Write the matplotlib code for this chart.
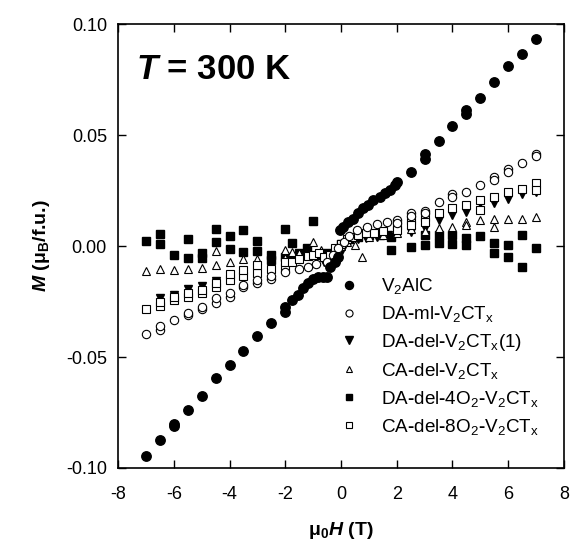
import numpy as np
import matplotlib
matplotlib.use('Agg')
import matplotlib.pyplot as plt

plt.rcParams['font.family'] = ['Liberation Sans', 'DejaVu Sans']
plt.rcParams['axes.unicode_minus'] = False
plt.rcParams['mathtext.fontset'] = 'custom'
plt.rcParams['mathtext.rm'] = 'Liberation Sans:bold'
plt.rcParams['mathtext.it'] = 'Liberation Sans:bold:italic'
plt.rcParams['mathtext.bf'] = 'Liberation Sans:bold'

# V2AlC
h_v2alc = [-7.0, -6.5, -6.0, -6.0, -5.5, -5.0, -4.5, -4.0, -3.5, -3.0, -2.5, -2.0, -2.0,
           -1.77, -1.53, -1.35, -1.17, -0.99, -0.81, -0.65, -0.51, -0.39, -0.21, -0.1,
           -0.04, 0.08, 0.26, 0.44, 0.62, 0.8, 0.98, 1.16, 1.4, 1.58, 1.76, 1.94, 2.0,
           2.5, 3.0, 3.0, 3.5, 4.0, 4.5, 4.5, 5.0, 5.5, 6.0, 6.5, 7.0]
m_v2alc = [-0.0944, -0.0875, -0.0812, -0.0800, -0.0740, -0.0677, -0.0595, -0.0535, -0.0475,
           -0.0404, -0.0345, -0.0295, -0.0273, -0.0243, -0.0220, -0.0190, -0.0168, -0.0150,
           -0.0141, -0.0138, -0.0141, -0.0093, -0.0070, -0.0048, 0.0072, 0.0087, 0.0110,
           0.0124, 0.0147, 0.0170, 0.0184, 0.0207, 0.0222, 0.0237, 0.0252, 0.0274, 0.0289,
           0.0334, 0.0413, 0.0394, 0.0473, 0.0539, 0.0614, 0.0593, 0.0667, 0.0738, 0.0810,
           0.0866, 0.0935]

# DA-ml-V2CTx
h_daml = [-7.0, -6.5, -6.5, -6.0, -5.5, -5.5, -5.0, -5.0, -4.5, -4.5, -4.0, -4.0, -3.5, -3.5,
          -3.0, -3.0, -2.5, -2.5, -2.0, -1.5, -1.2, -0.9, -0.5, -0.3, -0.1, 0.1, 0.3, 0.56,
          0.92, 1.28, 1.64, 2.0, 2.0, 2.5, 2.5, 3.0, 3.0, 3.5, 4.0, 4.0, 4.5, 5.0, 5.5, 5.5,
          6.0, 6.0, 6.5, 7.0, 7.0]
m_daml = [-0.0395, -0.0380, -0.0360, -0.0335, -0.0310, -0.0303, -0.0285, -0.0276, -0.0258,
          -0.0235, -0.0228, -0.0210, -0.0186, -0.0175, -0.0168, -0.0153, -0.0150, -0.0135,
          -0.0115, -0.0105, -0.0095, -0.0080, -0.0070, -0.0040, -0.0010, 0.0020, 0.0045,
          0.0072, 0.0087, 0.0099, 0.0110, 0.0117, 0.0105, 0.0147, 0.0135, 0.0159, 0.0147,
          0.0199, 0.0234, 0.0222, 0.0244, 0.0274, 0.0311, 0.0297, 0.0349, 0.0334, 0.0372,
          0.0413, 0.0404]

# DA-del-V2CTx(1)
h_dadel = [-6.5, -6.0, -5.5, -5.0, -4.5, -4.0, -3.5, -3.0, -2.5, -2.0, -1.8, -1.5, -1.2, -0.9,
           -0.6, -0.35, -0.15, 0.05, 0.3, 0.6, 0.9, 1.3, 1.7, 2.0, 2.5, 3.0, 3.5, 4.0, 4.5,
           5.0, 5.5, 6.0, 6.5, 7.0]
m_dadel = [-0.0235, -0.0220, -0.0195, -0.0178, -0.0158, -0.0150, -0.0126, -0.0100, -0.0078,
           -0.0070, -0.0060, -0.0050, -0.0045, -0.0050, -0.0070, -0.0090, -0.0070, -0.0020,
           0.0020, 0.0030, 0.0035, 0.0040, 0.0050, 0.0060, 0.0064, 0.0080, 0.0117, 0.0139,
           0.0154, 0.0192, 0.0192, 0.0214, 0.0234, 0.0245]

# CA-del-V2CTx
h_cadel = [-7.0, -6.5, -6.0, -5.5, -5.0, -4.5, -4.5, -4.0, -3.5, -3.0, -2.0, -2.0, -1.77,
           -1.5, -0.99, -0.7, -0.4, -0.2, 0.0, 0.2, 0.5, 0.74, 1.0, 1.5, 2.0, 2.5, 3.0, 3.5,
           4.0, 4.5, 4.5, 5.0, 5.5, 5.5, 6.0, 6.5, 7.0]
m_cadel = [-0.0111, -0.0105, -0.0110, -0.0105, -0.0100, -0.0021, -0.0085, -0.0071, -0.0060,
           -0.0060, -0.0018, -0.0055, -0.0026, -0.0030, 0.0019, -0.0020, -0.0040, -0.0020,
           0.0000, 0.0020, 0.0004, -0.0048, 0.0040, 0.0050, 0.0060, 0.0075, 0.0070, 0.0080,
           0.0087, 0.0109, 0.0094, 0.0117, 0.0124, 0.0087, 0.0124, 0.0124, 0.0132]

# DA-del-4O2-V2CTx
h_da4o2 = [-7.0, -6.5, -6.5, -6.0, -5.5, -5.5, -5.0, -5.0, -4.5, -4.5, -4.0, -4.0, -3.5, -3.5,
           -3.0, -3.0, -2.5, -2.5, -2.0, -2.0, -1.77, -1.5, -1.23, -0.99, -0.8, -0.5, -0.3,
           0.0, 0.3, 0.6, 1.0, 1.4, 1.78, 1.78, 2.5, 3.0, 3.0, 3.5, 3.5, 4.0, 4.0, 4.5, 4.5,
           5.0, 5.5, 5.5, 6.0, 6.0, 6.5, 6.5, 7.0]
m_da4o2 = [0.0022, 0.0053, 0.0008, -0.0040, 0.0032, -0.0055, -0.0033, -0.0055, 0.0075,
           0.0017, 0.0047, -0.0012, 0.0072, -0.0026, 0.0024, -0.0021, -0.0040, -0.0063,
           0.0075, -0.0048, 0.0012, -0.0030, -0.0010, 0.0114, -0.0040, -0.0030, -0.0040,
           0.0010, 0.0030, 0.0040, 0.0050, 0.0050, 0.0042, -0.0016, -0.0006, 0.0049, 0.0004,
           0.0049, 0.0012, 0.0049, 0.0009, 0.0035, 0.0004, 0.0045, 0.0012, -0.0033, 0.0004,
           -0.0048, 0.0049, -0.0093, -0.0010]

# CA-del-8O2-V2CTx
h_ca8o2 = [-7.0, -6.5, -6.5, -6.0, -6.0, -5.5, -5.5, -5.0, -5.0, -4.5, -4.5, -4.0, -4.0, -3.5,
           -3.5, -3.0, -3.0, -2.5, -2.0, -2.0, -1.77, -1.5, -1.2, -1.0, -0.8, -0.6, -0.4,
           -0.2, 0.0, 0.2, 0.4, 0.6, 0.9, 1.2, 1.5, 2.0, 2.0, 2.5, 2.5, 3.0, 3.0, 3.5, 4.0,
           4.5, 5.0, 5.0, 5.5, 6.0, 6.5, 7.0, 7.0]
m_ca8o2 = [-0.0283, -0.0268, -0.0252, -0.0243, -0.0228, -0.0228, -0.0213, -0.0210, -0.0196,
           -0.0183, -0.0165, -0.0153, -0.0125, -0.0135, -0.0110, -0.0123, -0.0087, -0.0105,
           -0.0094, -0.0072, -0.0070, -0.0060, -0.0045, -0.0040, -0.0030, -0.0050, -0.0040,
           -0.0010, 0.0010, 0.0030, 0.0040, 0.0050, 0.0060, 0.0060, 0.0070, 0.0094, 0.0072,
           0.0117, 0.0094, 0.0130, 0.0109, 0.0147, 0.0170, 0.0184, 0.0207, 0.0162, 0.0222,
           0.0244, 0.0259, 0.0282, 0.0252]

labels = [r'$\mathregular{V_2AlC}$',
          r'$\mathregular{DA\text{-}ml\text{-}V_2CT_x}$',
          r'$\mathregular{DA\text{-}del\text{-}V_2CT_x(1)}$',
          r'$\mathregular{CA\text{-}del\text{-}V_2CT_x}$',
          r'$\mathregular{DA\text{-}del\text{-}4O_2\text{-}V_2CT_x}$',
          r'$\mathregular{CA\text{-}del\text{-}8O_2\text{-}V_2CT_x}$']

fig = plt.figure(figsize=(5.72, 5.48), dpi=100)
ax = fig.add_axes([0.2063, 0.146, 0.7797, 0.810])

ax.plot(h_da4o2, m_da4o2, 's', ms=5.8, mfc='black', mec='black', label=labels[4])
ax.plot(h_dadel, m_dadel, 'v', ms=6, mfc='black', mec='black', label=labels[2])
ax.plot(h_cadel, m_cadel, '^', ms=5.5, mfc='white', mec='black', mew=0.8, label=labels[3])
ax.plot(h_ca8o2, m_ca8o2, 's', ms=5.6, mfc='white', mec='black', mew=0.8, label=labels[5])
ax.plot(h_daml, m_daml, 'o', ms=6, mfc='white', mec='black', mew=0.8, label=labels[1])
ax.plot(h_v2alc, m_v2alc, 'o', ms=6.8, mfc='black', mec='black', label=labels[0])

handles, labs = ax.get_legend_handles_labels()
order = [5, 4, 1, 2, 0, 3]
leg = ax.legend([handles[i] for i in order], [labs[i] for i in order],
                loc='upper left', bbox_to_anchor=(0.496, 0.432), frameon=False,
                fontsize=13.6, handlelength=1.0, handletextpad=1.2, labelspacing=0.42,
                markerscale=0.85, borderpad=0, borderaxespad=0)
leg.set_zorder(10)

ax.set_xlim(-8, 8)
ax.set_ylim(-0.1, 0.1)
ax.set_xticks(np.arange(-8, 9, 2))
ax.set_yticks([-0.10, -0.05, 0.00, 0.05, 0.10])
ax.set_yticklabels(['-0.10', '-0.05', '0.00', '0.05', '0.10'])
ax.tick_params(direction='in', top=True, right=True, length=6, width=1, labelsize=13)
ax.tick_params(axis='x', pad=13)
ax.tick_params(axis='y', pad=8)
for s in ax.spines.values():
    s.set_linewidth(1.2)

ax.set_xlabel(r'$\mathregular{\mu_0}$$H$ (T)', fontsize=14, fontweight='bold', labelpad=12)
ax.set_ylabel(r'$M$ ($\mathregular{\mu_B}$/f.u.)', fontsize=14, fontweight='bold', labelpad=10)

ax.text(0.04, 0.935, r'$T$ = 300 K', transform=ax.transAxes, fontsize=25,
        fontweight='bold', va='top', ha='left')

fig.savefig('out.png', dpi=100)
